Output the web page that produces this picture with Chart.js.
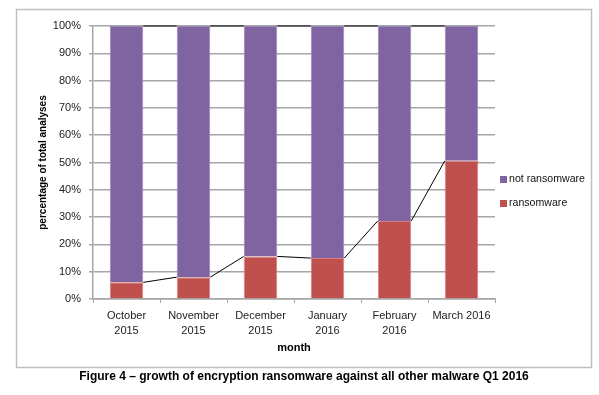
<!DOCTYPE html>
<html>
<head>
<meta charset="utf-8">
<script src="https://cdn.jsdelivr.net/npm/chart.js@4/dist/chart.umd.min.js"></script>
<style>
  html, body { margin: 0; padding: 0; background: #fff; }
  #wrap { width: 599px; height: 395px; }
</style>
</head>
<body>
<div id="wrap"><canvas id="my_graph" width="599" height="395"></canvas></div>
<script>
const months = [['October', '2015'], ['November', '2015'], ['December', '2015'], ['January', '2016'], ['February', '2016'], 'March 2016'];
const ransomware = [6.1, 8.0, 15.6, 15.0, 28.6, 50.6];
const notRansomware = [93.9, 92.0, 84.4, 85.0, 71.4, 49.4];
const yTicks = [0, 10, 20, 30, 40, 50, 60, 70, 80, 90, 100];
const caption = 'Figure 4 \u2013 growth of encryption ransomware against all other malware Q1 2016';

const FONT = 'Arial, "Liberation Sans", sans-serif';
const gridColor = '#a6a6a6';

// Excel style "series lines" between the stacked bars
const seriesLines = {
  id: 'seriesLines',
  afterDatasetsDraw(chart) {
    const ctx = chart.ctx;
    ctx.save();
    ctx.strokeStyle = '#000';
    ctx.lineWidth = 1;
    chart.data.datasets.forEach((ds, di) => {
      const bars = chart.getDatasetMeta(di).data;
      for (let i = 0; i < bars.length - 1; i++) {
        const a = bars[i], b = bars[i + 1];
        ctx.beginPath();
        ctx.moveTo(a.x + a.width / 2, a.y);
        ctx.lineTo(b.x - b.width / 2, b.y);
        ctx.stroke();
      }
    });
    ctx.restore();
  }
};

const frameAndLegend = {
  id: 'frameAndLegend',
  afterDraw(chart) {
    const ctx = chart.ctx;
    ctx.save();
    // outer frame
    ctx.strokeStyle = '#c0c0c0';
    ctx.lineWidth = 1.5;
    ctx.strokeRect(16.5, 9.5, 575, 358);
    // legend (top item = last dataset)
    ctx.font = '10.6px ' + FONT;
    ctx.textBaseline = 'middle';
    ctx.textAlign = 'left';
    const items = chart.data.datasets.slice().reverse();
    items.forEach((ds, i) => {
      const y = 179.5 + i * 24;
      ctx.fillStyle = ds.backgroundColor;
      ctx.fillRect(500, y - 3.5, 7, 7);
      ctx.fillStyle = '#111';
      ctx.fillText(ds.label, 509, y);
    });
    // caption
    ctx.font = 'bold 12px ' + FONT;
    ctx.textAlign = 'center';
    ctx.fillStyle = '#000';
    ctx.fillText(caption, 304, 377);
    ctx.restore();
  }
};

const data = {
  labels: months,
  datasets: [
    {
      label: 'ransomware',
      data: ransomware,
      backgroundColor: '#c0504d',
      borderColor: '#d4817f',
      borderWidth: 1,
      categoryPercentage: 1,
      barPercentage: 0.5
    },
    {
      label: 'not ransomware',
      data: notRansomware,
      backgroundColor: '#8064a2',
      borderColor: '#9c86ba',
      borderWidth: 1,
      categoryPercentage: 1,
      barPercentage: 0.5
    }
  ]
};

const confg = {
  type: 'bar',
  data,
  plugins: [seriesLines, frameAndLegend],
  options: {
    responsive: false,
    animation: false,
    layout: { padding: { left: 16, right: 104, top: 26, bottom: 36 } },
    scales: {
      x: {
        stacked: true,
        grid: { drawOnChartArea: false, drawTicks: true, tickLength: 4, color: gridColor, offset: true },
        border: { color: gridColor, width: 1.5 },
        ticks: { color: '#222', font: { family: FONT, size: 11, lineHeight: 1.33 }, padding: 6, maxRotation: 0, autoSkip: false },
        title: { display: true, text: 'month', color: '#000', font: { family: FONT, size: 11, weight: 'bold' }, padding: { top: 4, bottom: 4 } },
        afterFit(scale) { scale.height = 60; }
      },
      y: {
        stacked: true,
        min: 0,
        max: 100,
        afterBuildTicks(scale) { scale.ticks = yTicks.map(v => ({ value: v })); },
        grid: { color: gridColor, lineWidth: 1.5, tickLength: 4 },
        border: { color: gridColor, width: 1.5 },
        ticks: { color: '#222', font: { family: FONT, size: 11 }, padding: 8, callback: v => v + '%' },
        title: { display: true, text: 'percentage of total analyses', color: '#000', font: { family: FONT, size: 10, weight: 'bold' }, padding: { top: 21, bottom: 4 } },
        afterFit(scale) { scale.width = 77; }
      }
    },
    plugins: {
      legend: { display: false },
      tooltip: { enabled: false }
    }
  }
};

new Chart(document.getElementById('my_graph'), confg);
</script>
</body>
</html>
